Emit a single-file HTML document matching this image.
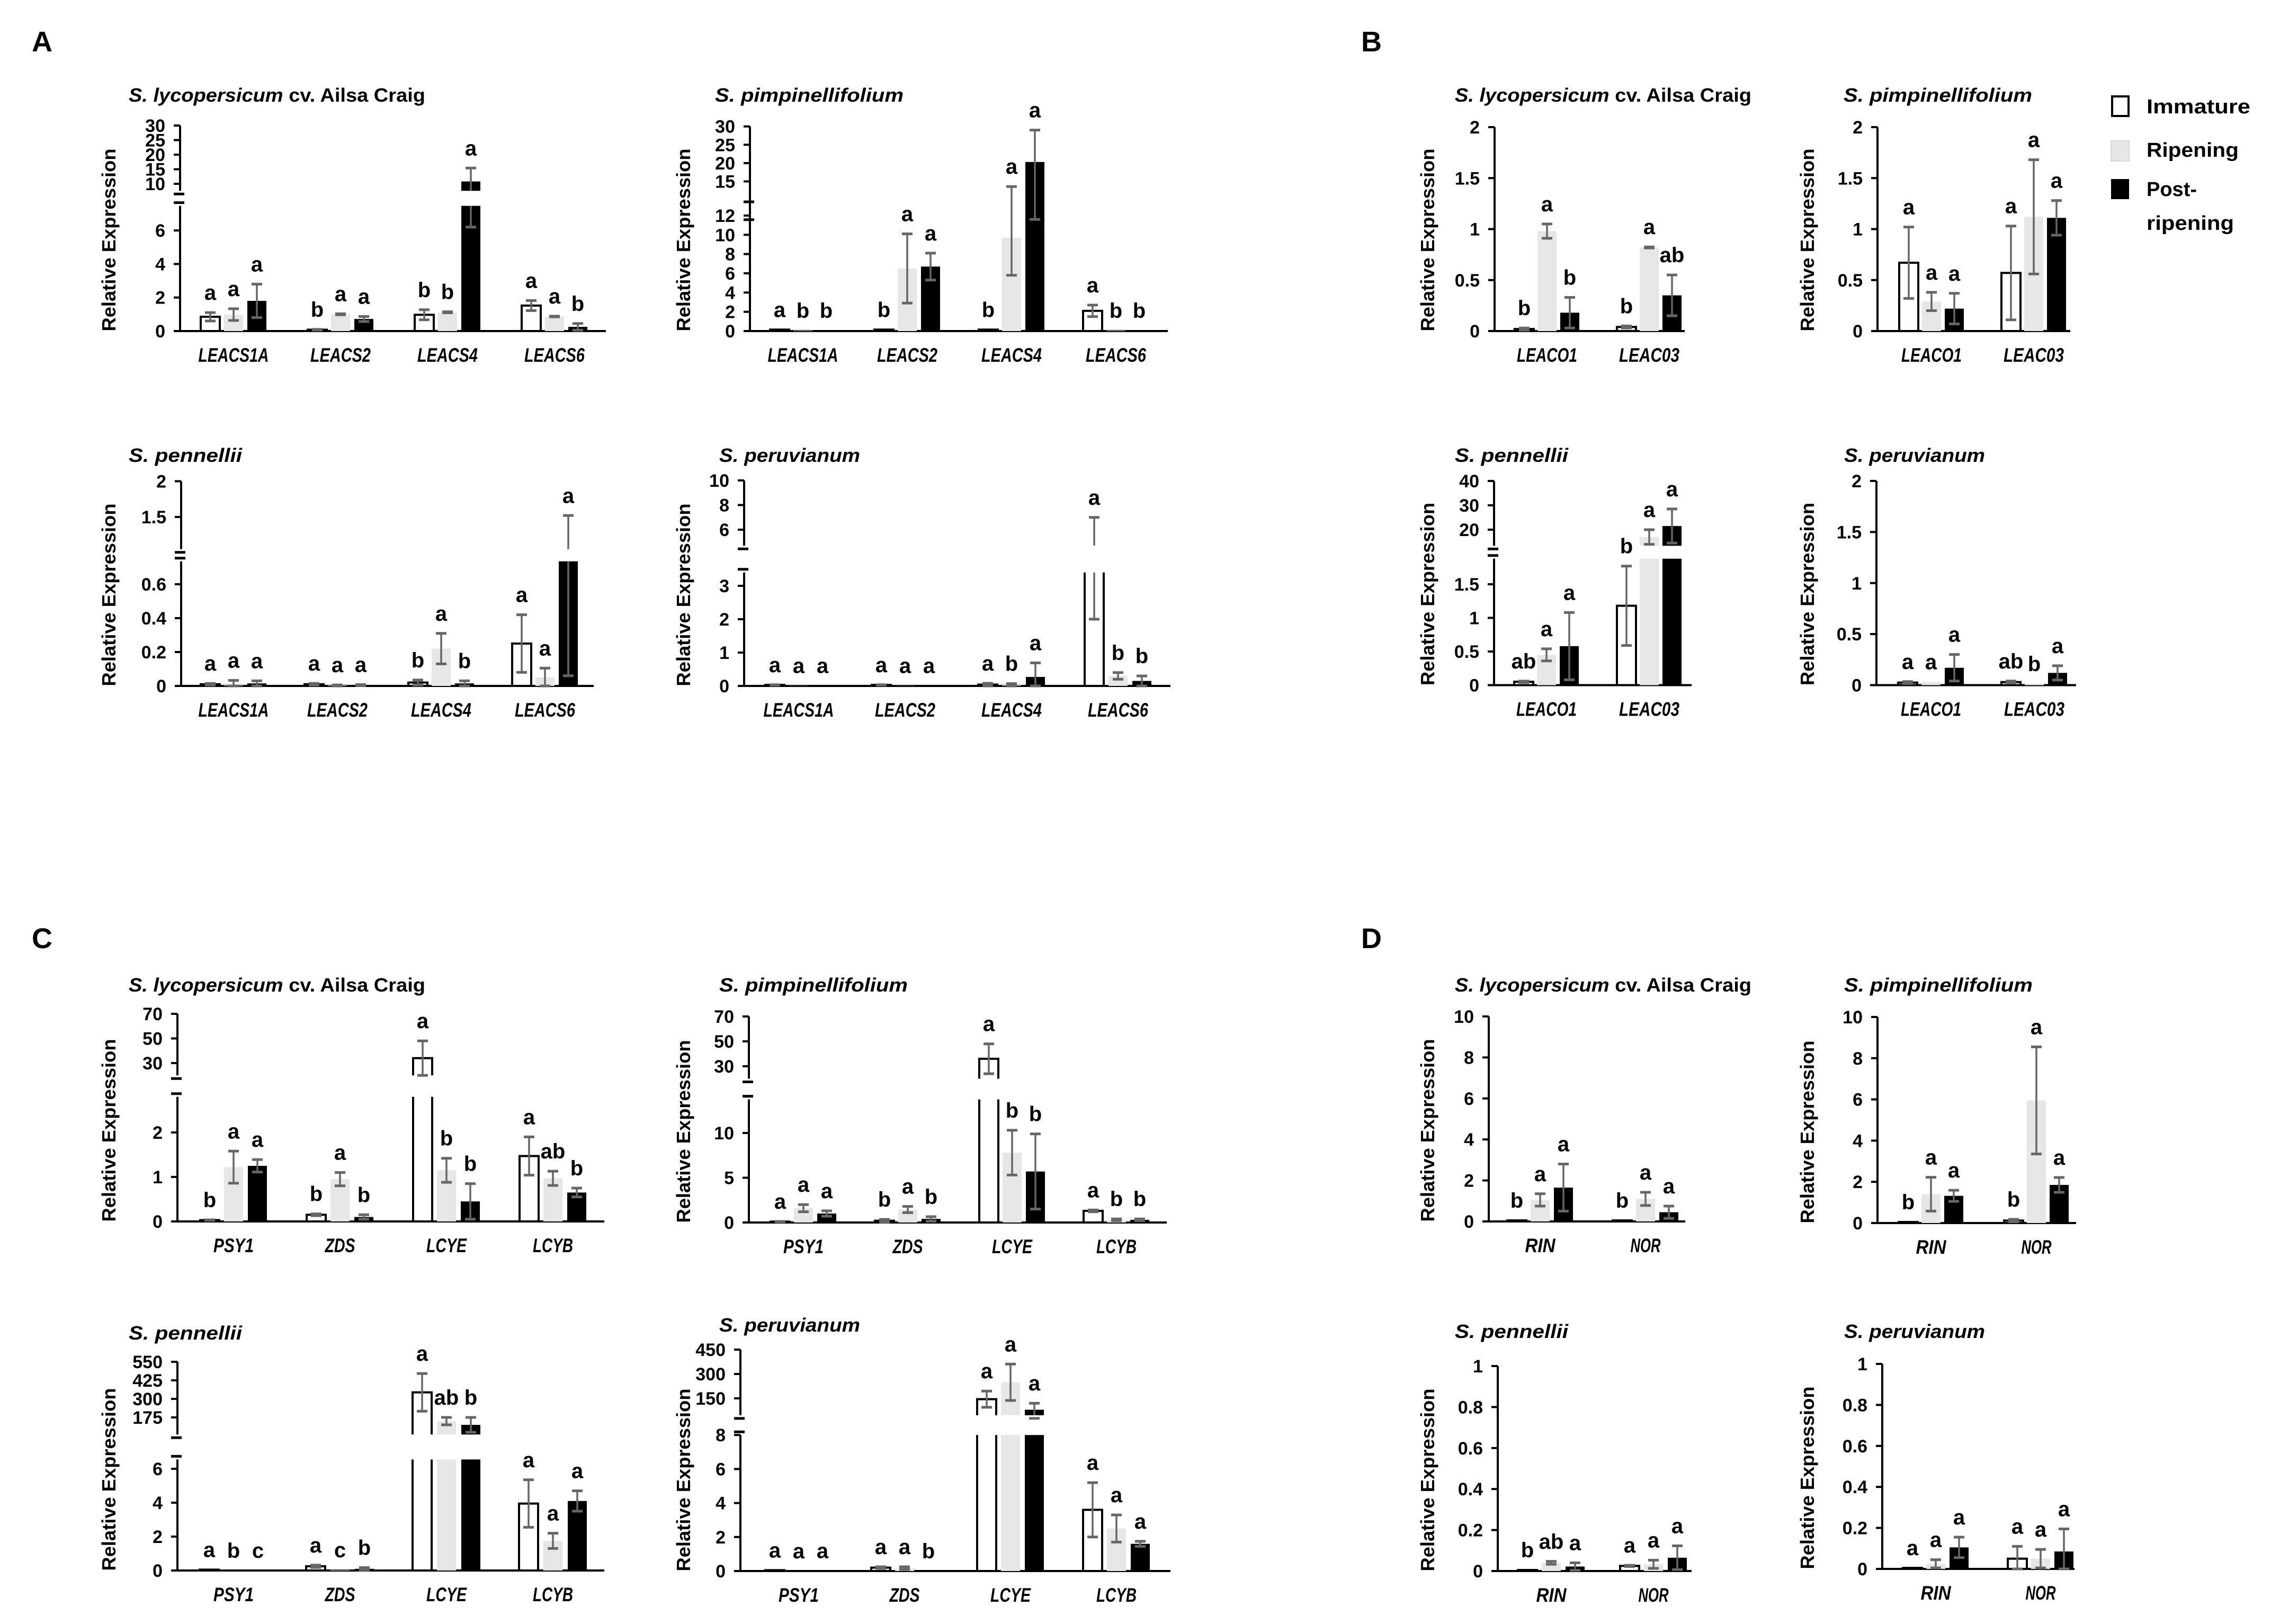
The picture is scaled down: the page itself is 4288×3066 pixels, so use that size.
<!DOCTYPE html>
<html><head><meta charset="utf-8"><style>
html,body{margin:0;padding:0;background:#fff;}
svg{display:block;font-family:"Liberation Sans",sans-serif;}
</style></head><body>
<svg id="fig" xmlns="http://www.w3.org/2000/svg" width="4288" height="3066" viewBox="0 0 4288 3066">
<rect x="0" y="0" width="4288" height="3066" fill="#fff"/>
<g font-weight="bold" font-size="54" fill="#000">
<text x="60" y="97">A</text>
<text x="2570" y="97">B</text>
<text x="60" y="1790">C</text>
<text x="2570" y="1790">D</text>
</g>
<g font-weight="bold" font-size="38" fill="#000">
<rect x="3988" y="182" width="31" height="37" fill="#fff" stroke="#000" stroke-width="4"/>
<text x="4053" y="214" textLength="196" lengthAdjust="spacingAndGlyphs">Immature</text>
<rect x="3986" y="266" width="34" height="38" fill="#e6e6e6" stroke="#d8d8d8" stroke-width="2"/>
<text x="4053" y="296" textLength="174" lengthAdjust="spacingAndGlyphs">Ripening</text>
<rect x="3986" y="338" width="34" height="38" fill="#000"/>
<text x="4053" y="370" textLength="95" lengthAdjust="spacingAndGlyphs">Post-</text>
<text x="4053" y="434" textLength="165" lengthAdjust="spacingAndGlyphs">ripening</text>
</g>
</svg>
<script>
// ===== DATA =====
const ACS = ['LEACS1A','LEACS2','LEACS4','LEACS6'];
const ACO = ['LEACO1','LEAC03'];
const CAR = ['PSY1','ZDS','LCYE','LCYB'];
const TF = ['RIN','NOR'];

const A1_imm=[0.85,0.08,0.97,1.52], A1_immErr=[0.25,0.02,0.3,0.3], A1_immLet=['a','b','b','a'];
const A1_rip=[0.98,1.0,1.12,0.87], A1_ripErr=[0.35,0.03,0.03,0.02], A1_ripLet=['a','a','b','a'];
const A1_post=[1.8,0.72,10.8,0.25], A1_postErr=[1.0,0.15,4.6,0.2], A1_postLet=['a','a','a','b'];
const A1_lowTicks=[0,2,4,6], A1_upTicks=[10,15,20,25,30];

const A2_imm=[0.15,0.15,0.15,2.1], A2_immErr=[0,0,0,0.6], A2_immLet=['a','b','b','a'];
const A2_rip=[0.05,6.5,9.7,0.05], A2_ripErr=[0,3.6,3.9,0], A2_ripLet=['b','a','a','b'];
const A2_post=[0.05,6.7,20.3,0.05], A2_postErr=[0,1.4,8.7,0], A2_postLet=['b','a','a','b'];
const A2_lowTicks=[0,2,4,6,8,10,12], A2_upTicks=[15,20,25,30];

const B1_imm=[0.02,0.04], B1_immErr=[0.01,0.01], B1_immLet=['b','b'];
const B1_rip=[0.98,0.82], B1_ripErr=[0.07,0.005], B1_ripLet=['a','a'];
const B1_post=[0.18,0.35], B1_postErr=[0.15,0.2], B1_postLet=['b','ab'];
const B1_ticks=[0,0.5,1,1.5,2];

const B2_imm=[0.67,0.57], B2_immErr=[0.35,0.46], B2_immLet=['a','a'];
const B2_rip=[0.29,1.12], B2_ripErr=[0.09,0.56], B2_ripLet=['a','a'];
const B2_post=[0.22,1.11], B2_postErr=[0.15,0.17], B2_postLet=['a','a'];
const B2_ticks=[0,0.5,1,1.5,2];

const A3_imm=[0.01,0.01,0.02,0.25], A3_immErr=[0.005,0.005,0.015,0.17], A3_immLet=['a','a','b','a'];
const A3_rip=[0.003,0.003,0.22,0.05], A3_ripErr=[0.03,0.003,0.09,0.055], A3_ripLet=['a','a','a','a'];
const A3_post=[0.015,0.005,0.015,0.79], A3_postErr=[0.015,0.003,0.015,0.73], A3_postLet=['a','a','b','a'];
const A3_lowTicks=[0,0.2,0.4,0.6], A3_upTicks=[1.5,2];

const A4_imm=[0.03,0.03,0.04,4.5], A4_immErr=[0.005,0.005,0.04,2.5], A4_immLet=['a','a','a','a'];
const A4_rip=[0.005,0.005,0.02,0.3], A4_ripErr=[0,0,0.05,0.1], A4_ripLet=['a','a','b','b'];
const A4_post=[0.005,0.005,0.27,0.15], A4_postErr=[0,0,0.42,0.15], A4_postLet=['a','a','a','b'];
const A4_lowTicks=[0,1,2,3], A4_upTicks=[6,8,10];

const B3_imm=[0.05,1.18], B3_immErr=[0.01,0.59], B3_immLet=['ab','b'];
const B3_rip=[0.45,17], B3_ripErr=[0.09,3], B3_ripLet=['a','a'];
const B3_post=[0.58,21.5], B3_postErr=[0.5,7], B3_postLet=['a','a'];
const B3_lowTicks=[0,0.5,1,1.5], B3_upTicks=[20,30,40];

const B4_imm=[0.025,0.03], B4_immErr=[0.01,0.01], B4_immLet=['a','ab'];
const B4_rip=[0.03,0.012], B4_ripErr=[0,0], B4_ripLet=['a','b'];
const B4_post=[0.17,0.12], B4_postErr=[0.13,0.07], B4_postLet=['a','a'];
const B4_ticks=[0,0.5,1,1.5,2];

const C1_imm=[0.03,0.15,34,1.47], C1_immErr=[0.005,0.02,14,0.43], C1_immLet=['b','b','a','a'];
const C1_rip=[1.22,0.95,1.15,0.97], C1_ripErr=[0.36,0.15,0.27,0.16], C1_ripLet=['a','a','b','ab'];
const C1_post=[1.25,0.1,0.45,0.65], C1_postErr=[0.14,0.05,0.4,0.1], C1_postLet=['a','b','b','b'];
const C1_lowTicks=[0,1,2], C1_upTicks=[30,50,70];

const C2_imm=[0.1,0.2,36,1.3], C2_immErr=[0.02,0.15,12,0.1], C2_immLet=['a','b','a','a'];
const C2_rip=[1.6,1.45,7.8,0.3], C2_ripErr=[0.4,0.35,2.5,0.1], C2_ripLet=['a','a','b','b'];
const C2_post=[1.0,0.4,5.7,0.3], C2_postErr=[0.3,0.25,4.2,0.1], C2_postLet=['a','b','b','b'];
const C2_lowTicks=[0,5,10], C2_upTicks=[30,50,70];

const D1_imm=[0.05,0.05], D1_immErr=[0,0], D1_immLet=['b','b'];
const D1_rip=[1.05,1.1], D1_ripErr=[0.3,0.32], D1_ripLet=['a','a'];
const D1_post=[1.65,0.45], D1_postErr=[1.15,0.3], D1_postLet=['a','a'];
const D1_ticks=[0,2,4,6,8,10];

const D2_imm=[0.05,0.12], D2_immErr=[0,0.06], D2_immLet=['b','b'];
const D2_rip=[1.4,5.95], D2_ripErr=[0.82,2.6], D2_ripLet=['a','a'];
const D2_post=[1.32,1.85], D2_postErr=[0.27,0.36], D2_postLet=['a','a'];
const D2_ticks=[0,2,4,6,8,10];

const C3_imm=[0.05,0.25,344,3.95], C3_immErr=[0,0.07,127,1.4], C3_immLet=['a','a','a','a'];
const C3_rip=[0,0.03,150,1.75], C3_ripErr=[0,0,25,0.45], C3_ripLet=['b','c','ab','a'];
const C3_post=[0,0.1,125,4.1], C3_postErr=[0,0.07,50,0.6], C3_postLet=['c','b','b','a'];
const C3_lowTicks=[0,2,4,6], C3_upTicks=[175,300,425,550];

const C4_imm=[0.05,0.2,145,3.6], C4_immErr=[0,0.05,50,1.6], C4_immLet=['a','a','a','a'];
const C4_rip=[0,0.17,249,2.5], C4_ripErr=[0,0.08,112,0.8], C4_ripLet=['a','a','a','a'];
const C4_post=[0.02,0,80,1.6], C4_postErr=[0,0,40,0.15], C4_postLet=['a','b','a','a'];
const C4_lowTicks=[0,2,4,6,8], C4_upTicks=[150,300,450];

const D3_imm=[0.005,0.025], D3_immErr=[0,0.003], D3_immLet=['b','a'];
const D3_rip=[0.04,0.033], D3_ripErr=[0.007,0.02], D3_ripLet=['ab','a'];
const D3_post=[0.022,0.065], D3_postErr=[0.018,0.058], D3_postLet=['a','a'];
const D3_ticks=[0,0.2,0.4,0.6,0.8,1];

const D4_imm=[0.005,0.05], D4_immErr=[0,0.06], D4_immLet=['a','a'];
const D4_rip=[0.025,0.05], D4_ripErr=[0.02,0.045], D4_ripLet=['a','a'];
const D4_post=[0.105,0.085], D4_postErr=[0.05,0.11], D4_postLet=['a','a'];
const D4_ticks=[0,0.2,0.4,0.6,0.8,1];

// ===== LAYOUT =====
const NS='http://www.w3.org/2000/svg';
const svg=document.getElementById('fig');
function mk(tag,attrs,parent){const e=document.createElementNS(NS,tag);for(const k in attrs)e.setAttribute(k,attrs[k]);(parent||svg).appendChild(e);return e;}
const TITLE_LEN={lyc:560,pim:356,pen:214,per:266};
const YLX=[205,1290,2695,3412];

function makeScale(L){
  const low=v=>L.base-v*L.k;
  if(!L.br) return v=>low(v);
  const up=v=>L.br.uy1-(v-L.br.uv1)*L.br.ku;
  const lt=L.br.lt, ub=L.br.ub;
  return v=>{ if(v<=lt) return low(v); if(v>=ub) return up(v);
    const t=(v-lt)/(ub-lt); return low(lt)+(up(ub)-low(lt))*t; };
}

function drawPanel(id,L,genes,series,lowTicks,upTicks){
  const g=mk('g',{});
  
  
  const y=makeScale(L);
  const t=mk('text',{x:L.tx,y:L.ty,'font-size':36,'font-weight':'bold',textLength:TITLE_LEN[L.sp],lengthAdjust:'spacingAndGlyphs'},g);
  
  
  const names={lyc:['S. lycopersicum',' cv. Ailsa Craig'],pim:['S. pimpinellifolium',''],pen:['S. pennellii',''],per:['S. peruvianum','']}[L.sp];
  const s1=mk('tspan',{'font-style':'italic'},t); s1.textContent=names[0];
  if(names[1]){const s2=mk('tspan',{},t); s2.textContent=names[1];}
  const yl=mk('text',{x:0,y:0,transform:`translate(${YLX[L.col]+13},${L.base-172}) rotate(-90)`,'text-anchor':'middle','font-size':36,'font-weight':'bold',textLength:345,lengthAdjust:'spacingAndGlyphs'},g);
  
  
  yl.textContent='Relative Expression';
  let clip=null;
  if(L.br){
    const cp=mk('clipPath',{id:'clip-'+id},g);
    mk('rect',{x:0,y:0,width:4288,height:y(L.br.ub)},cp);
    mk('rect',{x:0,y:y(L.br.lt),width:4288,height:L.base-y(L.br.lt)+4},cp);
    clip='url(#clip-'+id+')';
  }
  const ax=mk('g',{stroke:'#000','stroke-width':4},g);
  
  
  const allT=lowTicks.concat(upTicks||[]);
  if(L.br){
    mk('line',{x1:L.ax,x2:L.ax,y1:L.base,y2:y(L.br.lt)},ax);
    mk('line',{x1:L.ax,x2:L.ax,y1:y(L.br.ub),y2:y(upTicks[upTicks.length-1])},ax);
    mk('line',{x1:L.ax-12,x2:L.ax+8,y1:y(L.br.ub)+6,y2:y(L.br.ub)+6,'stroke-width':5},ax);
    mk('line',{x1:L.ax-12,x2:L.ax+8,y1:y(L.br.lt)-6,y2:y(L.br.lt)-6,'stroke-width':5},ax);
  } else {
    mk('line',{x1:L.ax,x2:L.ax,y1:L.base,y2:y(lowTicks[lowTicks.length-1])},ax);
  }
  allT.forEach(v=>{
    mk('line',{x1:L.ax-12,x2:L.ax,y1:y(v),y2:y(v)},ax);
    const tl=mk('text',{x:L.ax-28,y:y(v)+12,'text-anchor':'end','font-size':34,'font-weight':'bold',stroke:'none',fill:'#000'},g);
    
    
    tl.textContent=String(v);
  });
  const xl=mk('line',{x1:L.ax,x2:L.xe,y1:L.base,y2:L.base,stroke:'#000','stroke-width':4},g);
  
  
  const styles=[{fill:'#fff',stroke:'#000'},{fill:'#e6e6e6',stroke:'none'},{fill:'#000',stroke:'none'}];
  const snames=['immature','ripening','post-ripening'];
  const bw=36;
  const bars=mk('g',clip?{'clip-path':clip}:{},g);
  const errs=mk('g',{},g);
  genes.forEach((gn,i)=>{
    const cx=L.c0+i*L.step;
    const lab=mk('text',{x:cx,y:L.base+58,'text-anchor':'middle','font-size':37,'font-weight':'bold','font-style':'italic',textLength:gn.length*19,lengthAdjust:'spacingAndGlyphs'},g);
    
    
    lab.textContent=gn;
    series.forEach((s,j)=>{
      const bx=cx+(j-1)*L.off;
      const v=s.v[i], e=s.e[i];
      const yt=y(v);
      const st=styles[j];
      const h=Math.max(L.base-yt,0);
      const r=mk('rect',{x:bx-bw/2,y:yt,width:bw,height:h,fill:st.fill,stroke:st.stroke,'stroke-width':st.stroke==='none'?0:4},bars);
      
      
      let top=yt;
      if(e>0){
        const y1=y(v+e), y2=y(Math.max(v-e,0));
        const ln=mk('line',{x1:bx,x2:bx,y1:y1,y2:y2,stroke:'#666','stroke-width':3.5},clip?mk('g',{'clip-path':clip},errs):errs);
        
        
        [y1,y2].forEach(cy=>{mk('line',{x1:bx-10,x2:bx+10,y1:cy,y2:cy,stroke:'#666','stroke-width':5},errs);});
        top=Math.min(top,y1);
      }
      const lt=mk('text',{x:bx,y:top-24,'text-anchor':'middle','font-size':40,'font-weight':'bold'},g);
      
      
      lt.textContent=s.l[i];
    });
  });
}
function S(v,e,l){return {v:v,e:e,l:l};}

drawPanel('a1',{col:0,sp:'lyc',tx:243,ty:192,ax:340,xe:1144,base:625,k:31.65,br:{lt:7.47,ub:7.6,uv1:10,uy1:347,ku:5.5},c0:441,step:202,off:44},
  ACS,[S(A1_imm,A1_immErr,A1_immLet),S(A1_rip,A1_ripErr,A1_ripLet),S(A1_post,A1_postErr,A1_postLet)],A1_lowTicks,A1_upTicks);
drawPanel('a2',{col:1,sp:'pim',tx:1350,ty:192,ax:1416,xe:2205,base:625,k:18.17,br:{lt:13.1,ub:11.9001,uv1:15,uy1:342.5,ku:6.92},c0:1516,step:197,off:44},
  ACS,[S(A2_imm,A2_immErr,A2_immLet),S(A2_rip,A2_ripErr,A2_ripLet),S(A2_post,A2_postErr,A2_postLet)],A2_lowTicks,A2_upTicks);
drawPanel('b1',{col:2,sp:'lyc',tx:2747,ty:192,ax:2822,xe:3181,base:625,k:192.5,c0:2921,step:193,off:43},
  ACO,[S(B1_imm,B1_immErr,B1_immLet),S(B1_rip,B1_ripErr,B1_ripLet),S(B1_post,B1_postErr,B1_postLet)],B1_ticks,null);
drawPanel('b2',{col:3,sp:'pim',tx:3481,ty:192,ax:3545,xe:3909,base:625,k:192.5,c0:3647,step:193,off:43},
  ACO,[S(B2_imm,B2_immErr,B2_immLet),S(B2_rip,B2_ripErr,B2_ripLet),S(B2_post,B2_postErr,B2_postLet)],B2_ticks,null);
drawPanel('a3',{col:0,sp:'pen',tx:243,ty:872,ax:342,xe:1121,base:1295,k:320,br:{lt:0.735,ub:1.05,uv1:1.5,uy1:976,ku:135},c0:441,step:196,off:44},
  ACS,[S(A3_imm,A3_immErr,A3_immLet),S(A3_rip,A3_ripErr,A3_ripLet),S(A3_post,A3_postErr,A3_postLet)],A3_lowTicks,A3_upTicks);
drawPanel('a4',{col:1,sp:'per',tx:1358,ty:872,ax:1405,xe:2210,base:1295,k:63,br:{lt:3.4,ub:4.7,uv1:6,uy1:1000,ku:23.25},c0:1508,step:201,off:45},
  ACS,[S(A4_imm,A4_immErr,A4_immLet),S(A4_rip,A4_ripErr,A4_ripLet),S(A4_post,A4_postErr,A4_postLet)],A4_lowTicks,A4_upTicks);
drawPanel('b3',{col:2,sp:'pen',tx:2747,ty:872,ax:2821,xe:3194,base:1293.5,k:127,br:{lt:1.88,ub:13.4,uv1:20,uy1:1000,ku:4.6},c0:2920,step:194,off:43},
  ACO,[S(B3_imm,B3_immErr,B3_immLet),S(B3_rip,B3_ripErr,B3_ripLet),S(B3_post,B3_postErr,B3_postLet)],B3_lowTicks,B3_upTicks);
drawPanel('b4',{col:3,sp:'per',tx:3482,ty:872,ax:3543,xe:3920,base:1293.5,k:192.75,c0:3646,step:195,off:44},
  ACO,[S(B4_imm,B4_immErr,B4_immLet),S(B4_rip,B4_ripErr,B4_ripLet),S(B4_post,B4_postErr,B4_postLet)],B4_ticks,null);
drawPanel('c1',{col:0,sp:'lyc',tx:243,ty:1872,ax:335,xe:1141,base:2306,k:84,br:{lt:2.8,ub:20,uv1:30,uy1:2007,ku:2.325},c0:441,step:201,off:45},
  CAR,[S(C1_imm,C1_immErr,C1_immLet),S(C1_rip,C1_ripErr,C1_ripLet),S(C1_post,C1_postErr,C1_postLet)],C1_lowTicks,C1_upTicks);
drawPanel('c2',{col:1,sp:'pim',tx:1358,ty:1872,ax:1414,xe:2203,base:2308,k:16.9,br:{lt:13.75,ub:20,uv1:30,uy1:2013,ku:2.35},c0:1517,step:197,off:44},
  CAR,[S(C2_imm,C2_immErr,C2_immLet),S(C2_rip,C2_ripErr,C2_ripLet),S(C2_post,C2_postErr,C2_postLet)],C2_lowTicks,C2_upTicks);
drawPanel('d1',{col:2,sp:'lyc',tx:2747,ty:1872,ax:2811,xe:3182,base:2306,k:38.7,c0:2908,step:199,off:44},
  TF,[S(D1_imm,D1_immErr,D1_immLet),S(D1_rip,D1_ripErr,D1_ripLet),S(D1_post,D1_postErr,D1_postLet)],D1_ticks,null);
drawPanel('d2',{col:3,sp:'pim',tx:3482,ty:1872,ax:3545,xe:3920,base:2309,k:38.9,c0:3646,step:199,off:43},
  TF,[S(D2_imm,D2_immErr,D2_immLet),S(D2_rip,D2_ripErr,D2_ripLet),S(D2_post,D2_postErr,D2_postLet)],D2_ticks,null);
drawPanel('c3',{col:0,sp:'pen',tx:243,ty:2529,ax:335,xe:1141,base:2965,k:32,br:{lt:6.55,ub:60,uv1:175,uy1:2676,ku:0.28},c0:441,step:201,off:46},
  CAR,[S(C3_imm,C3_immErr,C3_immLet),S(C3_rip,C3_ripErr,C3_ripLet),S(C3_post,C3_postErr,C3_postLet)],C3_lowTicks,C3_upTicks);
drawPanel('c4',{col:1,sp:'per',tx:1358,ty:2514,ax:1398,xe:2210,base:2966,k:32.1,br:{lt:8,ub:46,uv1:150,uy1:2640,ku:0.3067},c0:1508,step:200,off:45},
  CAR,[S(C4_imm,C4_immErr,C4_immLet),S(C4_rip,C4_ripErr,C4_ripLet),S(C4_post,C4_postErr,C4_postLet)],C4_lowTicks,C4_upTicks);
drawPanel('d3',{col:2,sp:'pen',tx:2747,ty:2526,ax:2828,xe:3194,base:2966,k:387,c0:2929,step:193,off:45},
  TF,[S(D3_imm,D3_immErr,D3_immLet),S(D3_rip,D3_ripErr,D3_ripLet),S(D3_post,D3_postErr,D3_postLet)],D3_ticks,null);
drawPanel('d4',{col:3,sp:'per',tx:3482,ty:2526,ax:3554,xe:3917,base:2962,k:387,c0:3655,step:198,off:44},
  TF,[S(D4_imm,D4_immErr,D4_immLet),S(D4_rip,D4_ripErr,D4_ripLet),S(D4_post,D4_postErr,D4_postLet)],D4_ticks,null);
</script>
</body></html>
